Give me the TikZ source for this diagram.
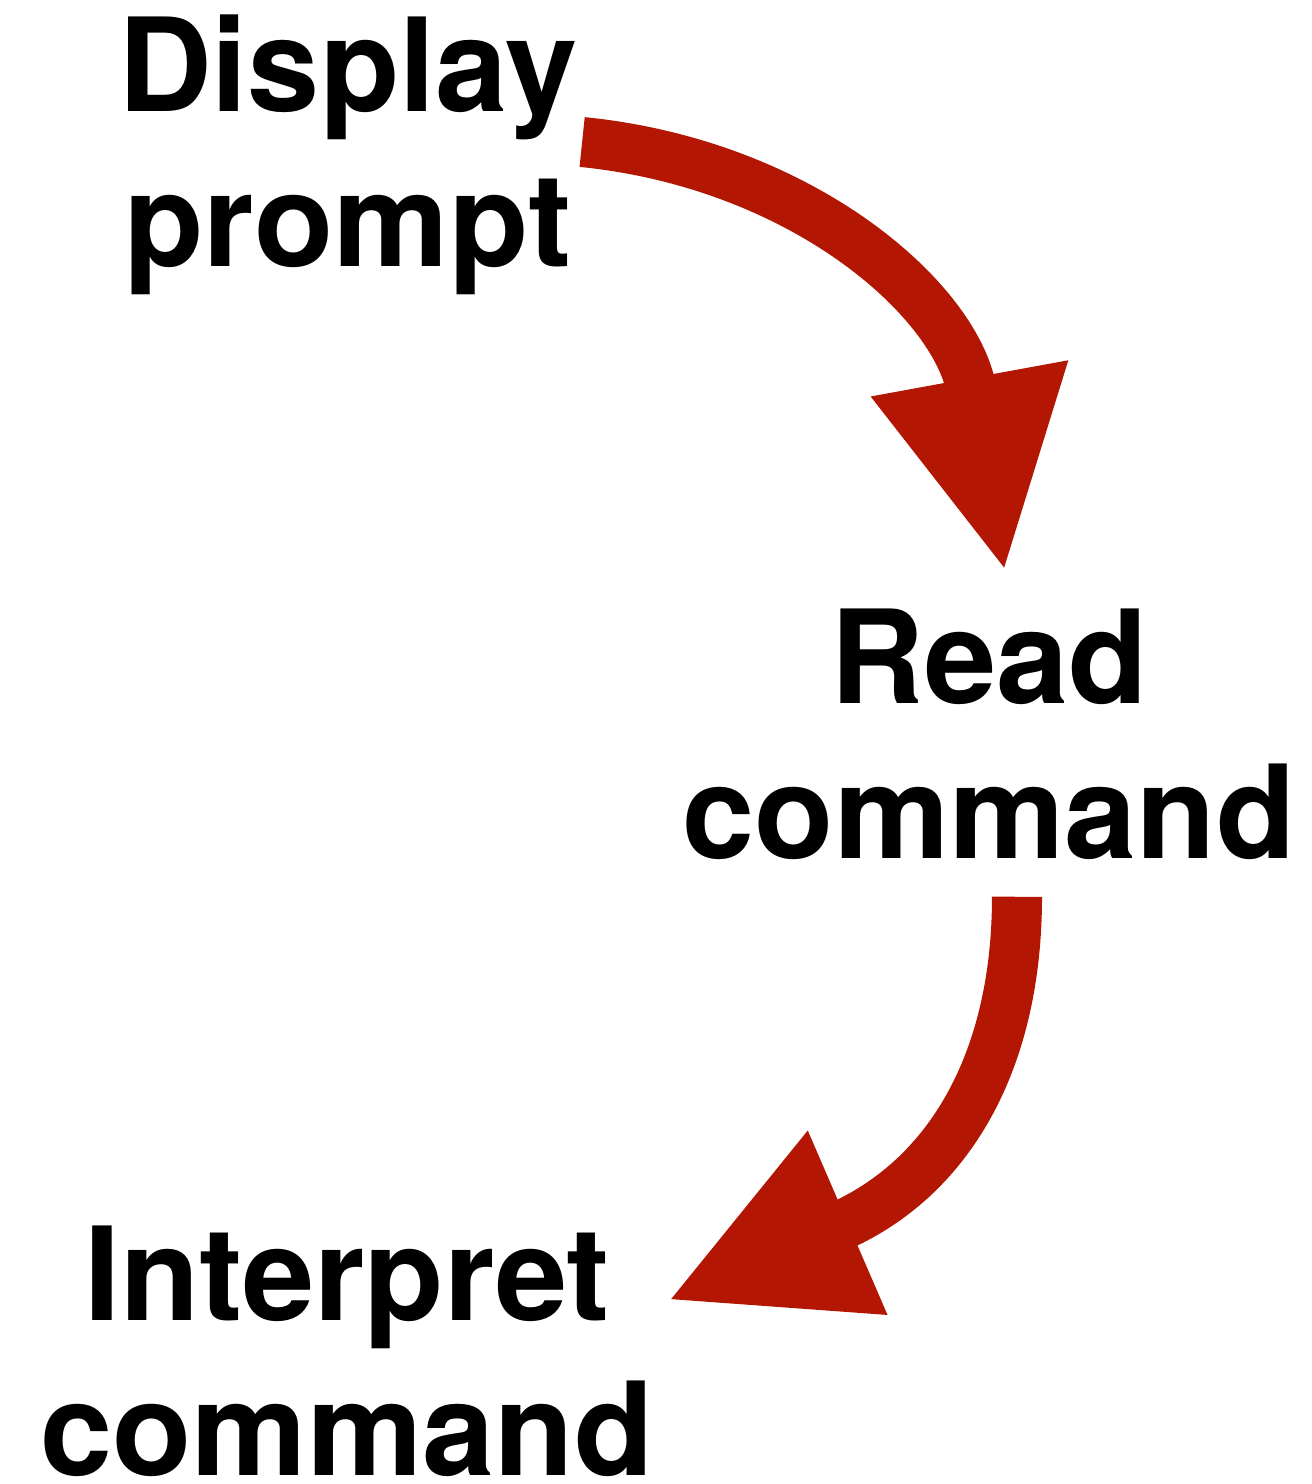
\documentclass[tikz,border=0pt]{standalone}
\usepackage{fontspec}
\setmainfont{TeX Gyre Heros}
\usetikzlibrary{arrows.meta}
\definecolor{loopred}{RGB}{180,22,4}
\tikzset{every picture/.style={line width=0.75pt}}

\begin{document}
\begin{tikzpicture}[x=0.01cm, y=-0.01cm,
        every node/.style={align=center, inner sep=0pt, font=\fontsize{36.9}{44.1}\selectfont\bfseries},
        flow/.style={color=loopred, line width=0.5cm, -{Triangle[length=1.97cm, width=1.85cm]}}]
        \useasboundingbox (0,0) rectangle (1311,1484);
        \node (display) at (348,155) {Display\\prompt};
        \node (read) at (989,734) {Read\\command};
        \node (interpret) at (347,1351) {Interpret\\command};
        \draw[flow]
            ([shift={(3,-13)}]display.east) .. controls +(220,22) and +(-50,-273) .. ([shift={(16,-35)}]read.north);
        \draw[flow]
            ([shift={(28,36)}]read.south) .. controls +(0,165) and +(282,-122) .. ([shift={(12,-50)}]interpret.east);
    \end{tikzpicture}
\end{document}
